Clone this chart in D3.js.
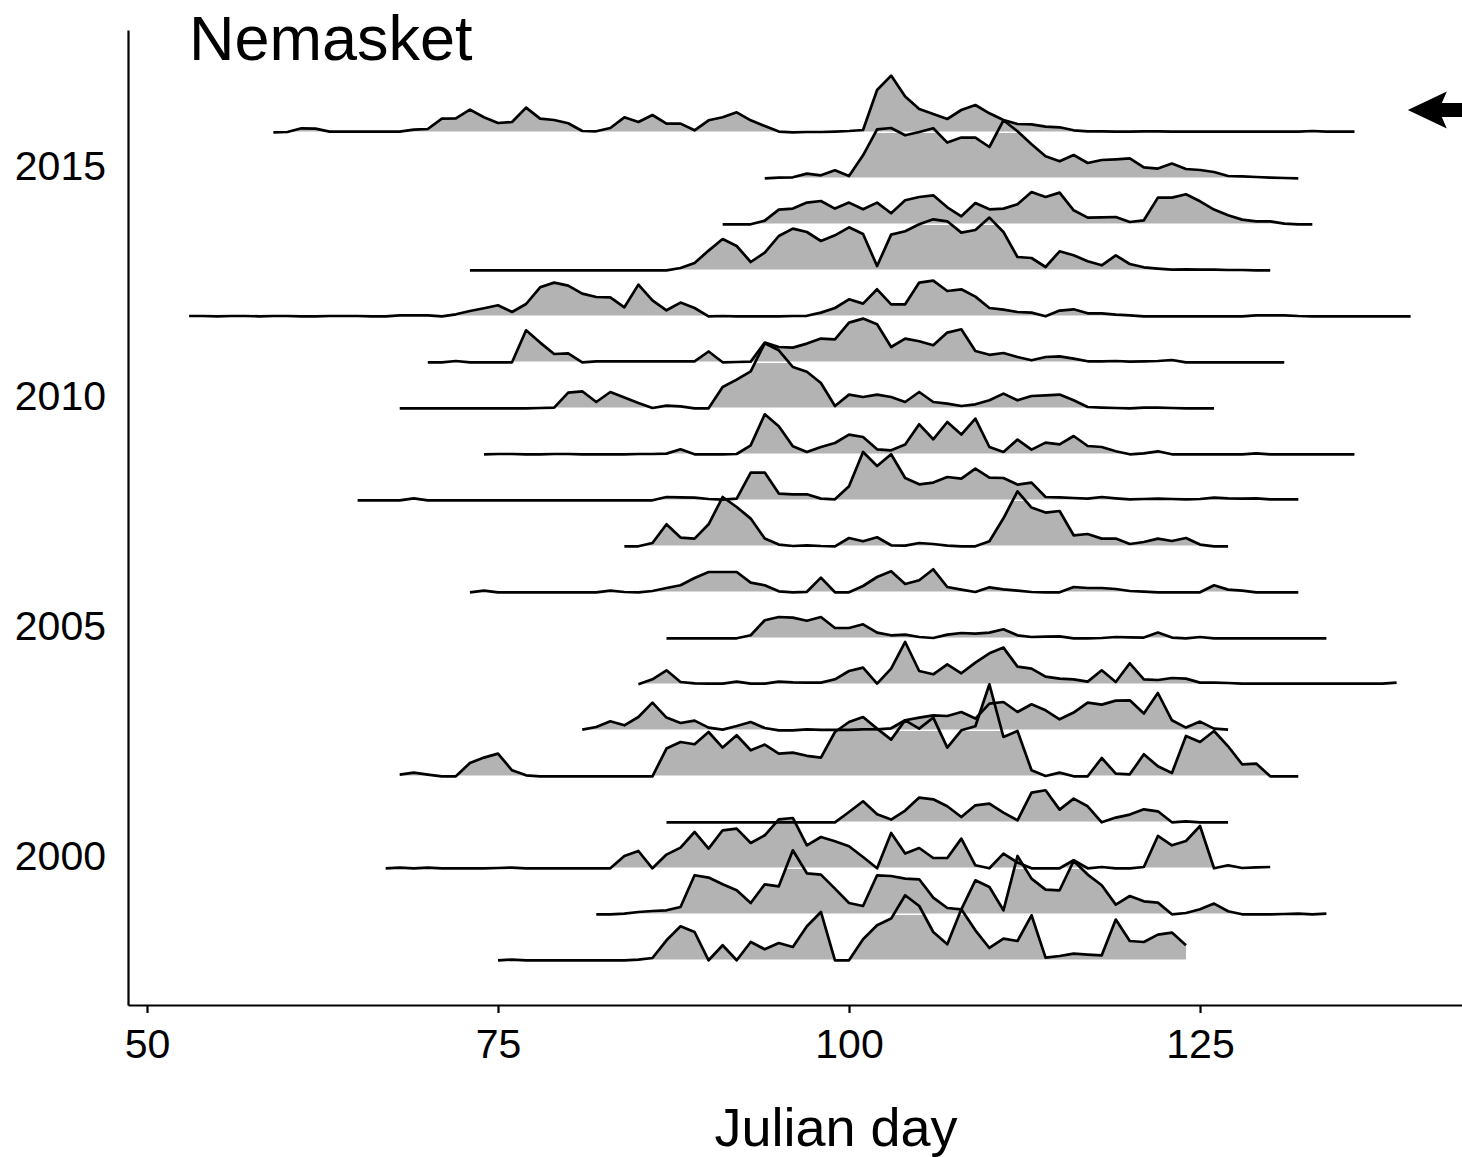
<!DOCTYPE html>
<html>
<head>
<meta charset="utf-8">
<script src="https://cdn.jsdelivr.net/npm/d3@7"></script>
<style>
  body { margin: 0; background: #ffffff; }
  svg { display: block; }
  text { font-family: "Liberation Sans", Arial, Helvetica, sans-serif; fill: #000; }
</style>
</head>
<body>
<svg id="chart" width="1462" height="1157"></svg>
<script>
// ---- data -------------------------------------------------------------
const siteName = "Nemasket";
const xTitle = "Julian day";
const xTicks = [50, 75, 100, 125];
const yTicks = [2000, 2005, 2010, 2015];

// one ridge per year, listed from the top row down
const years = [2016, 2015, 2014, 2013, 2012, 2011, 2010, 2009, 2008, 2007,
               2006, 2005, 2004, 2003, 2002, 2001, 2000, 1999, 1998];
// first Julian day of each ridge; values follow on consecutive days
const startDays = [59, 94, 91, 73, 53, 70, 68, 74, 65, 84,
                   73, 87, 85, 81, 68, 87, 67, 82, 75];

// daily run index per year (relative height units)
const ridge2016 = [0, 0.3, 4, 3.7, 0.7, 0.7, 0.7, 0.7, 0.7, 0.7,
  2.7, 3.3, 13.7, 14, 22.7, 15, 9.3, 10.3, 24.7, 13.7,
  12.3, 9, 1.3, 1, 4.3, 15, 10.3, 17.3, 8.7, 8.7,
  2, 12, 15, 20, 12, 6.3, 0.7, 0, 0.3, 0.3,
  0.7, 1.3, 2.3, 42.3, 56.7, 35.7, 23.3, 18.3, 13.3, 22.3,
  27.3, 19, 12.3, 8.3, 8, 5.7, 5, 2, 1, 1,
  0.7, 0.7, 1, 1, 0.7, 0.7, 0.7, 0.7, 0.7, 0.7,
  0.7, 0.7, 0.7, 0.7, 1.3, 0.7, 0.7, 0.7];
const ridge2015 = [0, 0.7, 1, 4.7, 3, 8, 2.3, 23, 49, 50.3,
  43, 46.3, 50, 35.7, 40.7, 40.7, 31.3, 58, 47, 34,
  22, 17, 23.3, 15.3, 18.3, 19, 20, 11, 9.7, 14.7,
  9.3, 8.3, 6.3, 2.3, 2, 1.3, 0.7, 0.3, 0];
const ridge2014 = [0, 0, 0, 3.7, 14.7, 15.7, 21.7, 23.3, 15.7, 21.7,
  15, 21.7, 11, 24, 27.3, 29, 17, 8, 21.3, 15,
  15.7, 20, 32.3, 27.3, 31.7, 14, 6.7, 7, 7.3, 2.3,
  4, 26.7, 26.7, 30, 23, 14.7, 9, 4.7, 3, 3,
  0.7, 0, 0];
const ridge2013 = [0, 0, 0, 0, 0, 0, 0, 0, 0, 0, 0, 0, 0, 0, 0,
  2.3, 7.3, 19.7, 31.3, 24.3, 8.3, 17.7, 34.3, 41.7, 38.3,
  29.3, 35, 43, 36.3, 4.3, 35.7, 39, 46, 51, 49,
  37.7, 40.3, 52.7, 38.3, 13.3, 12.3, 3.3, 19, 15, 9,
  5, 15, 6.3, 3, 1.7, 0.7, 1, 0.7, 0.7, 0.3,
  0.3, 0, 0];
const ridge2012 = [0.3, 0.3, 0, 0.3, 0.3, 0, 0.3, 0.3, 0, 0, 0.3, 0.3, 0.3, 0,
  0, 1, 1, 1, 0, 2, 5.3, 8, 11, 4.3,
  12.3, 29, 33.7, 30.7, 22.7, 19.3, 19, 9, 31.7, 16,
  6, 13.7, 8.3, 0, 0.3, 0, 0, 0, 0, 0.3,
  0.5, 3.7, 8.3, 17, 12.7, 27, 12, 12, 33.7, 35.7,
  25.3, 27, 19.7, 8.3, 6.7, 4.3, 3.7, 0, 5.7, 7,
  3, 3, 1.7, 1, 0, 0, 0, 0, 0, 0,
  0, 0, 1, 1, 1, 0.3, 0, 0, 0, 0,
  0, 0, 0, 0];
const ridge2011 = [0, 0, 1.3, 0, 0, 0, 0, 32, 19.7, 8.3,
  9, 0, 1, 1, 1, 1, 1, 1, 1, 1,
  10.8, 0, 0.3, 0.7, 19.7, 15.3, 14.7, 18.7, 23.7, 23,
  39.7, 43.7, 38, 15.3, 23.7, 21, 17, 29.7, 33, 11.3,
  7.5, 9.3, 5.3, 2, 5.3, 6, 3.7, 1, 1, 1.3,
  0.7, 1, 1.3, 2.3, 0, 0, 0, 0, 0, 0,
  0, 0];
const ridge2010 = [0, 0, 0, 0, 0, 0, 0, 0, 0, 0,
  0.3, 0.7, 15.7, 17, 6.3, 16.3, 10.7, 5.3, 0.3, 2.7,
  2, 0, 0, 21.3, 28.7, 37, 65, 58, 41.3, 36.5,
  25.3, 2.3, 13.7, 11.3, 13.7, 11.3, 6.3, 16.3, 6.3, 4.7,
  2.3, 4, 8, 14.7, 8, 12.3, 13, 13.7, 8, 1.3,
  0.7, 0.3, 0, 0.7, 0.7, 0.3, 0, 0, 0];
const ridge2009 = [0, 0.3, 0.3, 0, 0, 0.3, 0.3, 0, 0, 0, 0, 0.3, 0.3,
  0.7, 5, 0, 0, 0, 0.3, 9, 40, 28, 8,
  2.3, 7.3, 11.3, 19.7, 17.3, 5, 4, 9.7, 30, 15,
  32.3, 19.7, 35.7, 7.3, 2.3, 14.7, 4.7, 11.7, 10, 18.3,
  8.3, 7.3, 3, 0, 1, 3, 0, 0, 0, 0,
  0, 0, 1, 0, 0, 0, 0, 0, 0, 0];
const ridge2008 = [0, 0, 0, 0, 2,
  0, 0, 0, 0, 0, 0, 0, 0, 0, 0, 0, 0, 0, 0, 0, 0, 0,
  3.3, 3, 2.7, 1.3, 0.7, 1.7, 27.7, 27.7, 6.7, 6,
  6, 1.7, 1, 14, 48.3, 34.3, 46, 22.3, 16, 17.7,
  23.3, 21.7, 31.7, 22.7, 22.3, 15.7, 17.7, 3.3, 3, 2.3,
  1.7, 3.3, 2, 1, 1.3, 1.7, 1.3, 1, 1.3, 2.7,
  2, 1.7, 2, 1, 1, 1];
const ridge2007 = [0, 0, 3.3, 22, 8.7, 7.7, 22, 49.3, 39.3, 27.7,
  7.7, 1.7, 0.3, 1, 0.3, 0, 8.3, 5, 9, 1,
  0.7, 3.3, 2.3, 0.7, 0, 0, 5, 28, 55, 38.7,
  33.7, 35.3, 11, 12.3, 7.7, 7.7, 2.3, 4.3, 7.7, 5.3,
  8.3, 1.7, 0, 0];
const ridge2006 = [0, 1.7, 0, 0, 0, 0, 0, 0, 0, 0,
  1.7, 0.3, 0, 1.3, 4.3, 7, 14.3, 20.3, 20.3, 20.3,
  9.7, 7, 1, 0, 0.5, 14.7, 0, 0, 6.3, 15.3,
  21, 8.3, 12, 23, 5.3, 2.7, 0.3, 5, 3, 1.7,
  0.3, 0, 0, 5.3, 4.3, 4.3, 3.3, 1.3, 0.7, 0,
  0, 0, 0, 7, 2.7, 1.7, 0, 0, 0, 0];
const ridge2005 = [0, 0, 0, 0, 0, 0, 3, 18, 21.3, 20.7,
  17.5, 21.3, 10.3, 10.3, 14, 5.7, 3, 3.7, 1.3, 0.3,
  3.7, 5.3, 4.7, 5.7, 9, 3, 1.3, 1.7, 2, 0,
  0, 0.3, 1.3, 1, 0.7, 5.7, 0.7, 0, 1.3, 0,
  0, 0, 0, 0, 0, 0, 0, 0];
const ridge2004 = [0, 5, 14, 2.3, 1, 0.7, 0.7, 2.7, 0.7, 0.7,
  2.7, 2, 1.7, 1.7, 5, 13.3, 16.7, 0.7, 15.7, 42.3,
  13.3, 10, 20, 11, 21.7, 31, 36.7, 17.7, 15.7, 7.7,
  5.7, 5, 2.7, 14, 2.3, 21, 5, 4.3, 6.3, 5.7,
  1.7, 1.7, 1.3, 0.7, 0.7, 0.7, 0.7, 0.7, 0.7, 0.7,
  0.7, 0.7, 0.7, 0.7, 1.7];
const ridge2003 = [0.7, 3.3, 9, 5, 13.3, 27.7, 12.7, 7.3, 9.7, 2.7,
  0.7, 4.3, 8.3, 2.3, 0, 0, 1, 0.5, 0.5, 0.5,
  1, 1, 2, 10, 12.7, 15, 14.3, 18.3, 11.7, 26.7,
  28.3, 18.3, 26, 20, 11, 17.7, 27.7, 25.7, 29.7, 30,
  16.7, 37.3, 10, 2.7, 8.7, 1.7, 0.7];
const ridge2002 = [1.7, 3.7, 1.7, 0, 0, 13.3, 18.7, 22.7, 6, 1,
  0, 0, 0, 0, 0, 0, 0, 0, 0,
  27.7, 34.3, 32, 44.3, 28.7, 41, 26, 31.7, 22.7, 23.7,
  20.5, 18.7, 44.3, 54.3, 59.3, 47.7, 36.7, 56, 47.7, 58.7,
  28.7, 46, 50, 92, 39.3, 45.3, 6, 0.3, 3.7, 0,
  0, 18.3, 2.7, 2, 22, 10, 3.3, 40.3, 34.3, 45.3,
  30, 12, 12.7, 0, 0, 0];
const ridge2001 = [0, 0, 0, 0, 0, 0, 0, 0, 0, 0, 0, 0, 0,
  10.3, 21, 8, 2.7, 11.7, 24.7, 23, 16, 5.3, 17,
  18.7, 9.7, 2, 29.7, 32, 12.7, 23.7, 16, 0, 4.7,
  7.7, 13, 11, 0, 1, 0, 0, 0];
const ridge2000 = [0, 0.7, 0, 0.7, 0, 0, 0, 0, 0.3, 0.7, 0,
  0, 0, 0, 0, 0, 0,
  12.3, 17.3, 0, 13.7, 20.7, 36.3, 19.7, 38, 39.7, 25.3,
  33, 49, 50.3, 23, 31.3, 27, 22, 11.3, 0, 35.3,
  14.7, 20.3, 10.3, 10.3, 29.7, 3, 0, 14.7, 5.7, 0,
  0, 0, 8, 0, 1.3, 0, 0, 1.3, 32.3, 23,
  27.3, 42.3, 0, 3, 0.3, 1, 1.3];
const ridge1999 = [0, 0, 0.7, 2.3, 3.3, 4, 7.3, 39, 36.7, 30,
  24, 11.3, 30, 28, 64, 41, 39.7, 25.7, 11.3, 8.3,
  39, 38.3, 35.7, 35, 16.7, 6.3, 5, 34, 27.3, 4,
  58.3, 35.7, 24.7, 24, 53.3, 39.7, 29, 9.7, 18.3, 13,
  11.7, 0, 1.3, 5, 10.7, 3, 0, 0, 0, 0.3,
  0.7, 0, 0.7];
const ridge1998 = [0, 0.7, 0,
  0, 0, 0, 0, 0, 0, 0,
  0.7, 2.3, 20, 34, 28.3, 0, 15, 0, 18.3, 11,
  17.3, 13.3, 34, 48.3, 0, 0, 21, 35, 41.7, 65,
  54.3, 28.3, 16, 51, 30, 12.3, 21.7, 19.3, 45, 2.7,
  4.3, 6.7, 5.7, 5, 40.7, 19.3, 18.3, 25.7, 27.7, 15];

const ridgeValues = [ridge2016, ridge2015, ridge2014, ridge2013, ridge2012,
  ridge2011, ridge2010, ridge2009, ridge2008, ridge2007, ridge2006, ridge2005,
  ridge2004, ridge2003, ridge2002, ridge2001, ridge2000, ridge1999, ridge1998];

// marker pointing at the top ridge (year level, Julian day of tip, tail)
const arrowYear = 2016.485;
const arrowTipDay = 139.8;
const arrowTailDay = 150;

// ---- layout -----------------------------------------------------------
const svg = d3.select("#chart");
const panel = { left: 128, right: 1544, top: 30, bottom: 1005 };

const x = d3.scaleLinear().domain([48.647, 149.5]).range([panel.left, panel.right]);
const y = d3.scaleLinear().domain([1997.028, 2018.224]).range([panel.bottom, panel.top]);
const rowStep = y(1998) - y(1999);
const h = d3.scaleLinear().domain([0, 46]).range([0, rowStep]);
const labelShift = 0.25;   // year labels sit slightly above the ridge baselines

const ridges = years.map((yr, i) => ({
  year: yr,
  points: ridgeValues[i].map((v, k) => ({ day: startDays[i] + k, value: v }))
}));

const fillGrey = "#b3b3b3";

// fills, drawn from the bottom row upwards; each baseline edged in white
const fills = svg.append("g");
ridges.slice().reverse().forEach(r => {
  const base = y(r.year);
  const area = d3.area()
    .x(d => x(d.day))
    .y0(base)
    .y1(d => base - h(d.value));
  fills.append("path")
    .datum(r.points)
    .attr("d", area)
    .attr("fill", fillGrey)
    .attr("stroke", "none");
  const first = r.points[0].day, last = r.points[r.points.length - 1].day;
  fills.append("line")
    .attr("x1", x(first)).attr("x2", x(last))
    .attr("y1", base).attr("y2", base)
    .attr("stroke", "#ffffff")
    .attr("stroke-width", 1.6);
});

// outlines
const lines = svg.append("g");
ridges.forEach(r => {
  const base = y(r.year);
  const line = d3.line()
    .x(d => x(d.day))
    .y(d => base - h(d.value));
  lines.append("path")
    .datum(r.points)
    .attr("d", line)
    .attr("fill", "none")
    .attr("stroke", "#000")
    .attr("stroke-width", 2.7)
    .attr("stroke-linejoin", "round");
});

// arrow marker
{
  const tip = x(arrowTipDay), tail = x(arrowTailDay), cy = y(arrowYear);
  const headLen = 39, headHalf = 18.5, shaftHalf = 7;
  const p = d3.path();
  p.moveTo(tip, cy);
  p.lineTo(tip + headLen, cy - headHalf);
  p.lineTo(tip + headLen - 5, cy - shaftHalf);
  p.lineTo(tail, cy - shaftHalf);
  p.lineTo(tail, cy + shaftHalf);
  p.lineTo(tip + headLen - 5, cy + shaftHalf);
  p.lineTo(tip + headLen, cy + headHalf);
  p.closePath();
  svg.append("path").attr("d", p.toString()).attr("fill", "#000");
}

// x axis
const xAxis = svg.append("g")
  .attr("transform", `translate(0,${panel.bottom})`)
  .call(d3.axisBottom(x).tickValues(xTicks).tickSize(8).tickSizeOuter(0).tickPadding(16));
xAxis.select(".domain").attr("stroke", "#000").attr("stroke-width", 2.2);
xAxis.selectAll(".tick line").attr("stroke", "#000").attr("stroke-width", 2.2);
xAxis.selectAll(".tick text")
  .attr("font-size", 41)
  .attr("font-family", "Liberation Sans, Arial, sans-serif")
  .attr("fill", "#000");

// y axis (labels shifted a quarter year above each baseline)
const yLabelScale = y.copy().domain(y.domain().map(d => d - labelShift));
const yAxis = svg.append("g")
  .attr("transform", `translate(${panel.left},0)`)
  .call(d3.axisLeft(yLabelScale).tickValues(yTicks).tickFormat(d3.format("d"))
        .tickSize(0).tickSizeOuter(0).tickPadding(22));
yAxis.select(".domain").attr("stroke", "#000").attr("stroke-width", 2.2);
yAxis.selectAll(".tick text")
  .attr("font-size", 41)
  .attr("font-family", "Liberation Sans, Arial, sans-serif")
  .attr("fill", "#000");

// titles
svg.append("text")
  .attr("x", 189).attr("y", 60)
  .attr("font-size", 63)
  .text(siteName);

svg.append("text")
  .attr("x", (panel.left + panel.right) / 2).attr("y", 1146)
  .attr("text-anchor", "middle")
  .attr("font-size", 54)
  .text(xTitle);
</script>
</body>
</html>
